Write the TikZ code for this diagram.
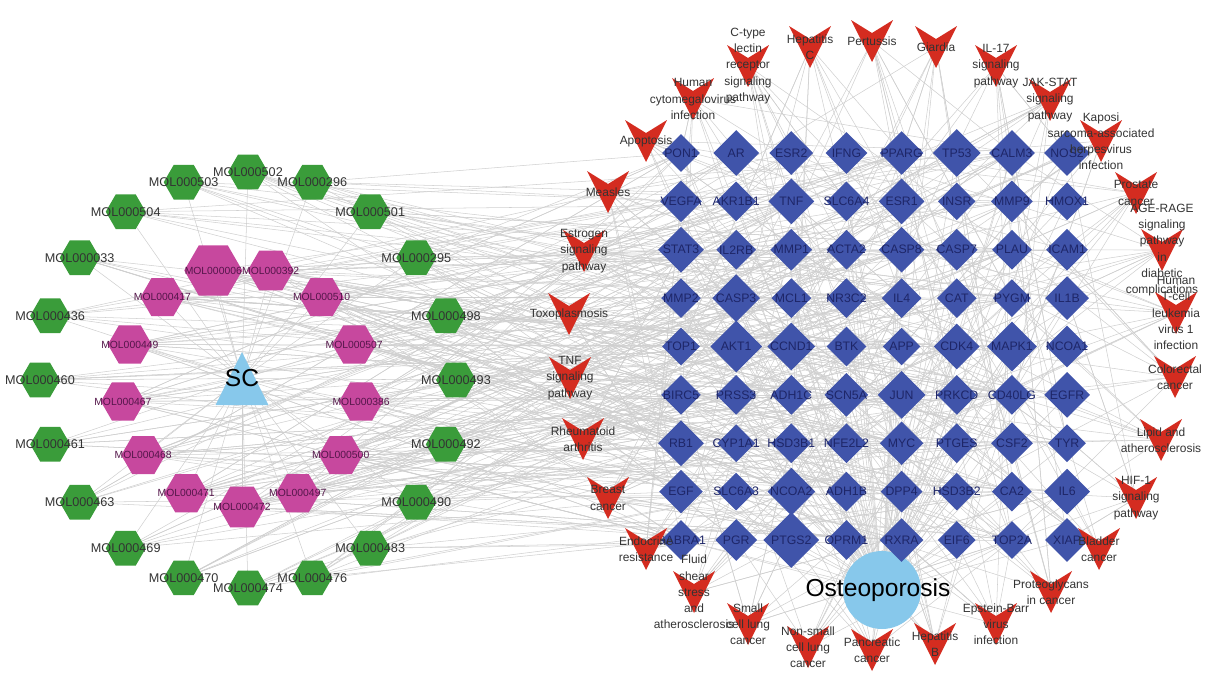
\documentclass[tikz,border=0pt]{standalone}
\usepackage{fontspec}
\setmainfont{Liberation Sans}
\usetikzlibrary{shapes.geometric}

\definecolor{herbgreen}{RGB}{58,156,58}
\definecolor{coremag}{RGB}{199,72,158}
\definecolor{targetblue}{RGB}{64,84,170}
\definecolor{targetink}{RGB}{30,38,104}
\definecolor{pathred}{RGB}{212,44,32}
\definecolor{hubblue}{RGB}{135,200,235}
\definecolor{magink}{RGB}{84,22,74}

\pgfdeclarelayer{edges}
\pgfsetlayers{edges,main}

\tikzset{
  herbhex/.style={regular polygon, regular polygon sides=6, inner sep=0pt,
    minimum size=0.8cm, fill=herbgreen},
  corehex/.style={regular polygon, regular polygon sides=6, inner sep=0pt,
    fill=coremag},
  target/.style={diamond, inner sep=0pt, fill=targetblue},
  chevron/.style={rectangle, inner sep=0pt, minimum width=0.84cm, minimum height=0.84cm,
    path picture={\fill[pathred] (path picture bounding box.north west)
      -- ([yshift=-0.26cm]path picture bounding box.north)
      -- (path picture bounding box.north east)
      -- (path picture bounding box.south) -- cycle;}},
  hubtri/.style={rectangle, inner sep=0pt, minimum width=1.06cm, minimum height=1.06cm,
    path picture={\fill[hubblue] (path picture bounding box.south west)
      -- (path picture bounding box.south east)
      -- (path picture bounding box.north) -- cycle;}},
  disease/.style={circle, inner sep=0pt, minimum size=1.56cm, fill=hubblue},
  herblab/.style={font=\fontsize{7.2}{8.6}\selectfont, text=black!80, inner sep=0pt},
  corelab/.style={font=\fontsize{5.9}{7}\selectfont, text=magink, inner sep=0pt},
  targetlab/.style={font=\fontsize{7}{8.4}\selectfont, text=targetink, inner sep=0pt},
  pathlab/.style={font=\fontsize{6.8}{9.2}\selectfont, text=black!80, align=center, inner sep=0pt},
  hublab/.style={font=\fontsize{14}{16}\selectfont, text=black, inner sep=0pt},
  link/.style={draw=black!19, line width=0.3pt},
}

\begin{document}
\begin{tikzpicture}[x=0.02cm, y=-0.02cm]
\useasboundingbox (0,0) rectangle (1213,673);

% hubs: the herb and the disease
\node[hubtri, label={[hublab]center:SC}] (sc) at (242,378.5) {};
\node[disease, label={[hublab, xshift=-0.08cm]center:Osteoporosis}] (op) at (882,590) {};

% outer ring of compounds
\foreach \i/\lab/\a in {1/MOL000502/90, 2/MOL000296/72, 3/MOL000501/54, 4/MOL000295/36,
  5/MOL000498/18, 6/MOL000493/0, 7/MOL000492/-18, 8/MOL000490/-36, 9/MOL000483/-54,
  10/MOL000476/-72, 11/MOL000474/-90, 12/MOL000470/-108, 13/MOL000469/-126,
  14/MOL000463/-144, 15/MOL000461/-162, 16/MOL000460/180, 17/MOL000436/162,
  18/MOL000033/144, 19/MOL000504/126, 20/MOL000503/108}
  \node[herbhex, label={[herblab]center:\lab}] (g\i)
    at ({248+208*cos(\a)},{380-208*sin(\a)}) {};

% inner ring of compounds
\foreach \i/\lab/\s [count=\k from 0] in {1/MOL000472/47, 2/MOL000497/44, 3/MOL000500/44,
  4/MOL000386/44, 5/MOL000507/44, 6/MOL000510/44, 7/MOL000392/46, 8/MOL000006/58,
  9/MOL000417/44, 10/MOL000449/44, 11/MOL000467/44, 12/MOL000468/44, 13/MOL000471/44}
  \node[corehex, minimum size=\s*0.02cm, label={[corelab]center:\lab}] (m\i)
    at ({242+120*cos(-90+27.692*\k)},{387-120*sin(-90+27.692*\k)}) {};

% grid of targets
\foreach \n/\s [count=\k from 0] in {
  PON1/38, AR/46, ESR2/44, IFNG/42, PPARG/44, TP53/48, CALM3/46, NOS2/46,
  VEGFA/42, AKR1B1/40, TNF/46, SLC6A4/40, ESR1/46, INSR/38, MMP9/42, HMOX1/38,
  STAT3/46, IL2RB/40, MMP1/42, ACTA2/40, CASP8/46, CASP7/42, PLAU/40, ICAM1/42,
  MMP2/40, CASP3/48, MCL1/40, NR3C2/40, IL4/40, CAT/40, PYGM/38, IL1B/44,
  TOP1/38, AKT1/52, CCND1/48, BTK/40, APP/38, CDK4/46, MAPK1/50, NCOA1/42,
  BIRC5/40, PRSS3/40, ADH1C/40, SCN5A/44, JUN/48, PRKCD/40, CD40LG/40, EGFR/46,
  RB1/46, CYP1A1/38, HSD3B1/40, NFE2L2/40, MYC/44, PTGES/40, CSF2/42, TYR/38,
  EGF/44, SLC6A3/38, NCOA2/48, ADH1B/40, DPP4/42, HSD3B2/38, CA2/40, IL6/46,
  GABRA1/40, PGR/42, PTGS2/56, OPRM1/40, RXRA/44, EIF6/38, TOP2A/38, XIAP/44}
{
  \pgfmathtruncatemacro\col{mod(\k,8)}
  \pgfmathtruncatemacro\row{div(\k,8)}
  \pgfmathtruncatemacro\idx{\k+1}
  \node[target, minimum size=\s*0.02cm, label={[targetlab]center:\n}] (t\idx)
    at ({681+55.15*\col},{153+48.375*\row}) {};
}

% ring of pathways and diseases
\foreach \i/\x/\y/\lab in {
  1/748/66/{C-type\\lectin\\receptor\\signaling\\pathway},
  2/810/47/{Hepatitis\\C},
  3/872/41/{Pertussis},
  4/936/47/{Giardia},
  5/996/66/{IL-17\\signaling\\pathway},
  6/1050/100/{JAK-STAT\\signaling\\pathway},
  7/1101/141/{Kaposi\\sarcoma-associated\\herpesvirus\\infection},
  8/1136/193/{Prostate\\cancer},
  9/1162/250/{AGE-RAGE\\signaling\\pathway\\in\\diabetic\\complications},
  10/1176/313/{Human\\T-cell\\leukemia\\virus 1\\infection},
  11/1175/377/{Colorectal\\cancer},
  12/1161/440/{Lipid and\\atherosclerosis},
  13/1136/498/{HIF-1\\signaling\\pathway},
  14/1099/549/{Bladder\\cancer},
  15/1051/592/{Proteoglycans\\in cancer},
  16/996/624/{Epstein-Barr\\virus\\infection},
  17/935/644/{Hepatitis\\B},
  18/872/650/{Pancreatic\\cancer},
  19/808/647/{Non-small\\cell lung\\cancer},
  20/748/624/{Small\\cell lung\\cancer},
  21/694/592/{Fluid\\shear\\stress\\and\\atherosclerosis},
  22/646/549/{Endocrine\\resistance},
  23/608/498/{Breast\\cancer},
  24/583/439/{Rheumatoid\\arthritis},
  25/570/378/{TNF\\signaling\\pathway},
  26/569/314/{Toxoplasmosis},
  27/584/251/{Estrogen\\signaling\\pathway},
  28/608/192/{Measles},
  29/646/141/{Apoptosis},
  30/693/99/{Human\\cytomegalovirus\\infection}}
  \node[chevron, label={[pathlab]center:\lab}] (r\i) at (\x,\y) {};

% connectors, kept underneath all nodes
\begin{pgfonlayer}{edges}
  \foreach \i in {1,...,20} \draw[link] (sc.center) -- (g\i.center);
  \foreach \i in {1,...,13} \draw[link] (sc.center) -- (m\i.center);
  \foreach \i in {1,...,20}{
    \foreach \j in {1,...,7}{
      \pgfmathtruncatemacro\t{mod(\i*37+\j*\j*11+\i*\j*13+\j*5,72)+1}
      \draw[link] (g\i.center) -- (t\t.center);
    }
  }
  \foreach \i in {1,...,13}{
    \foreach \j in {1,...,15}{
      \pgfmathtruncatemacro\t{mod(\i*41+\j*\j*7+\i*\j*17+\j*3,72)+1}
      \draw[link] (m\i.center) -- (t\t.center);
    }
  }
  \foreach \i in {1,...,72} \draw[link] (op.center) -- (t\i.center);
  \foreach \i in {1,...,30}{
    \foreach \j in {1,...,10}{
      \pgfmathtruncatemacro\t{mod(\i*43+\j*\j*5+\i*\j*19+\j*7,72)+1}
      \draw[link] (r\i.center) -- (t\t.center);
    }
  }
\end{pgfonlayer}
\end{tikzpicture}
\end{document}
